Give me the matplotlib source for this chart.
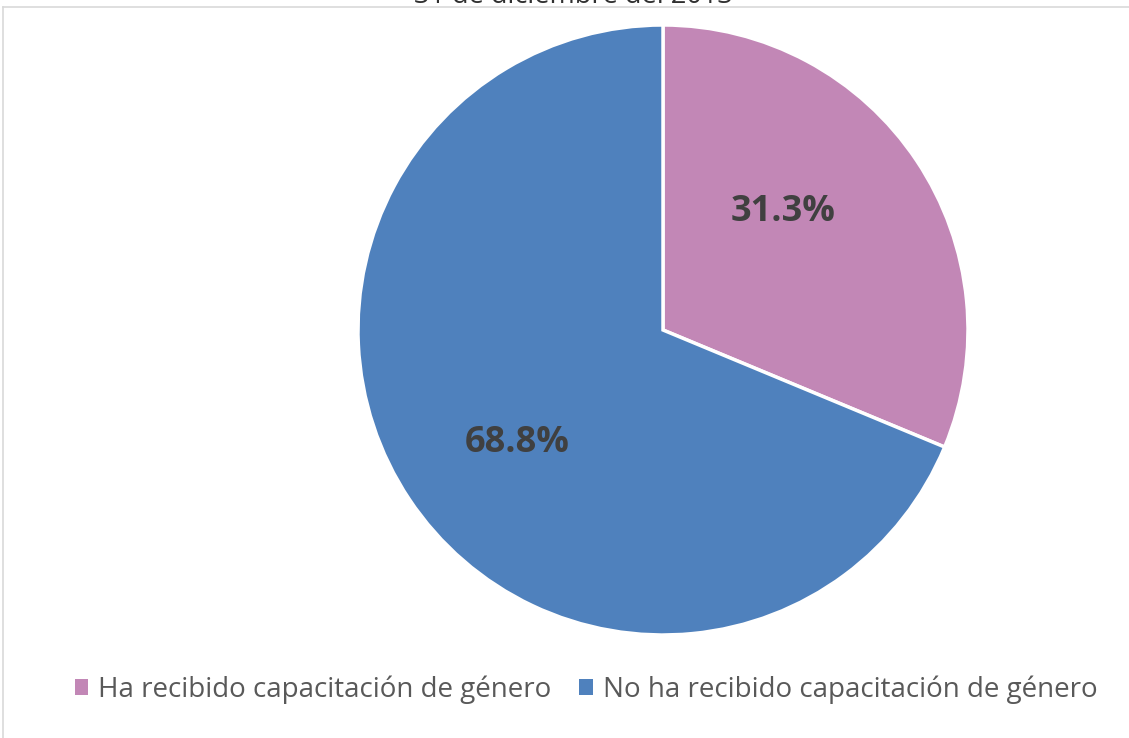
import matplotlib
matplotlib.use("Agg")
import matplotlib.pyplot as plt
from matplotlib.lines import Line2D
from matplotlib.patches import Patch

categories = ["Ha recibido capacitación de género", "No ha recibido capacitación de género"]
values = [31.3, 68.8]
colors = ["#C287B6", "#4F81BD"]
title = "31 de diciembre del 2013"

plt.rcParams['font.family'] = ['Open Sans', 'DejaVu Sans']

W, H = 1129, 738
fig = plt.figure(figsize=(W / 100, H / 100), dpi=100)

# pie axes: center (663,330), radius 305 px
cx, cy, r = 663, 330, 305
ax = fig.add_axes([(cx - r) / W, 1 - (cy + r) / H, 2 * r / W, 2 * r / H])
wedges, texts = ax.pie(values, colors=colors, startangle=90, counterclock=False,
                       wedgeprops=dict(edgecolor="white", linewidth=2.5))
ax.set_xlim(-1, 1)
ax.set_ylim(-1, 1)
ax.set_aspect("equal")
ax.axis("off")

# data labels (positions in pie units)
label_pos = [(0.393, 0.387), (-0.479, -0.370)]
for v, (x, y) in zip(values, label_pos):
    ax.text(x, y, f"{v:.1f}%", ha="center", va="center", fontsize=26,
            fontweight="bold", color="#404040")

# chart border lines
fig.add_artist(Line2D([3 / W, 1], [1 - 7 / H, 1 - 7 / H], color="#D9D9D9", lw=1.2, transform=fig.transFigure))
fig.add_artist(Line2D([3 / W, 3 / W], [0, 1 - 7 / H], color="#D9D9D9", lw=1.2, transform=fig.transFigure))

# title (clipped by the top edge as in the reference)
fig.text(573 / W, 1 - 3 / H, title, ha="center", va="baseline", fontsize=19.5, color="#303030")

handles = [Patch(facecolor=c, edgecolor="none") for c in colors]
fig.legend(handles, categories, loc="center", bbox_to_anchor=(586 / W, 1 - 690 / H), ncol=2,
           frameon=False, fontsize=20, labelcolor="#595959", handlelength=0.5, handleheight=0.5,
           handletextpad=0.35, columnspacing=1.0)

fig.savefig("out.png", dpi=100)
